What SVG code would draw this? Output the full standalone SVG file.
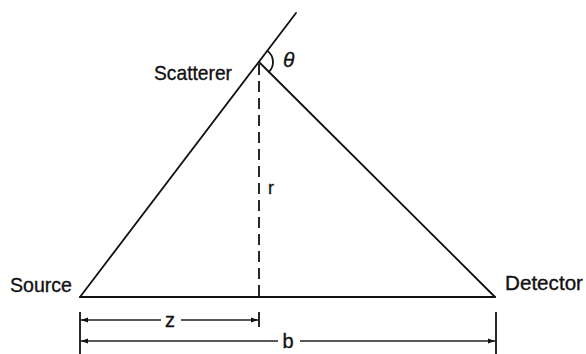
<svg xmlns="http://www.w3.org/2000/svg" width="586" height="354" viewBox="0 0 586 354">
<defs>
<style>
.ln{stroke:#111;stroke-width:1.8;fill:none;stroke-linecap:round}
.dim{stroke:#222;stroke-width:1.3;fill:none}
.tick{stroke:#111;stroke-width:1.8;fill:none}
.dash{stroke:#111;stroke-width:1.8;fill:none;stroke-dasharray:11 6}
.lbl{font-family:"Liberation Sans",Arial,sans-serif;font-size:21px;fill:#111;stroke:#111;stroke-width:0.35}
.sym{font-family:"Liberation Sans",Arial,sans-serif;fill:#111;stroke:#111;stroke-width:0.3}
</style>
<marker id="ah" viewBox="0 0 10 10" refX="10" refY="5" markerWidth="7" markerHeight="7" orient="auto-start-reverse" markerUnits="userSpaceOnUse">
<path d="M0,1.5 L10,5 L0,8.5 Z" fill="#111"/>
</marker>
</defs>
<rect width="586" height="354" fill="#fff"/>
<g id="connectors">
<line class="ln" x1="80" y1="297" x2="296" y2="13"/>
<line class="ln" x1="259" y1="62" x2="495" y2="297"/>
<line class="ln" x1="80" y1="297" x2="495" y2="297"/>
<line class="dash" x1="259" y1="64" x2="259" y2="297"/>
<path class="ln" d="M267.5,50.9 A14,14 0 0 1 268.9,71.9"/>
</g>
<g id="source"><text class="lbl" x="10" y="292" textLength="62" lengthAdjust="spacingAndGlyphs">Source</text></g>
<g id="scatterer"><text class="lbl" x="154" y="80" textLength="78" lengthAdjust="spacingAndGlyphs">Scatterer</text></g>
<g id="detector"><text class="lbl" x="505" y="290" textLength="78" lengthAdjust="spacingAndGlyphs">Detector</text></g>
<g id="theta"><text class="sym" x="283" y="67" font-size="21" font-style="italic">θ</text></g>
<g id="r"><text class="sym" x="268" y="194" font-size="18">r</text></g>
<g id="dimension-z">
<line class="tick" x1="80" y1="312" x2="80" y2="354"/>
<line class="tick" x1="259" y1="312" x2="259" y2="327"/>
<line class="dim" x1="161" y1="320" x2="81" y2="320" marker-end="url(#ah)"/>
<line class="dim" x1="181" y1="320" x2="258" y2="320" marker-end="url(#ah)"/>
<text class="sym" x="170" y="327" font-size="20" text-anchor="middle">z</text>
</g>
<g id="dimension-b">
<line class="tick" x1="496" y1="312" x2="496" y2="354"/>
<line class="dim" x1="278" y1="341" x2="81" y2="341" marker-end="url(#ah)"/>
<line class="dim" x1="300" y1="341" x2="495" y2="341" marker-end="url(#ah)"/>
<text class="sym" x="288" y="348" font-size="20" text-anchor="middle">b</text>
</g>
</svg>
